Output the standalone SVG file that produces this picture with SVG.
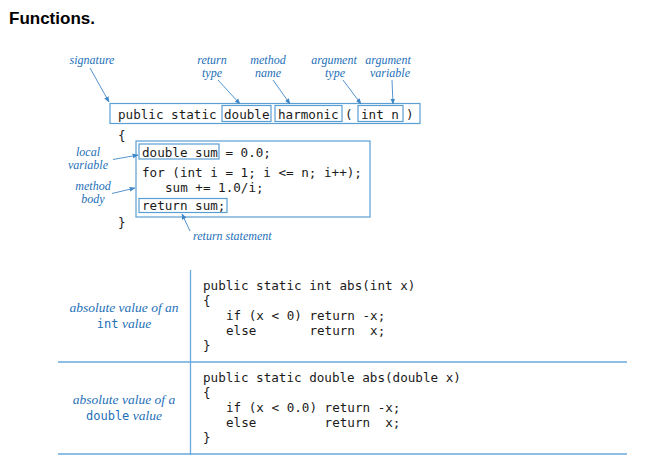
<svg xmlns="http://www.w3.org/2000/svg" width="650" height="456" viewBox="0 0 650 456">
  <style>
    .title { font-family: "Liberation Sans", Arial, sans-serif; font-weight: bold; font-size: 17px; fill: #000; }
    .code { font-family: "DejaVu Sans Mono", "Liberation Mono", monospace; font-size: 12.6px; fill: #1a1a1a; white-space: pre; }
    .lbl { font-family: "Liberation Serif", "Times New Roman", serif; font-style: italic; font-size: 12px; fill: #2470b8; }
    .lbl.big { font-size: 13.5px; }
    .lblmono { font-family: "DejaVu Sans Mono", "Liberation Mono", monospace; font-style: normal; font-size: 12px; fill: #2470b8; }
    .box { fill: none; stroke: #5a9fd4; stroke-width: 1.2; }
    .rule { fill: none; stroke: #6aa9dc; stroke-width: 1.3; }
    .arrow { fill: none; stroke: #3f88c8; stroke-width: 0.9; marker-end: url(#ah); }
  </style>
  <defs>
    <marker id="ah" viewBox="0 0 10 10" refX="9" refY="5" markerWidth="6" markerHeight="6" orient="auto" markerUnits="userSpaceOnUse">
      <path d="M0,1 L10,5 L0,9 Z" fill="#3f88c8"/>
    </marker>
  </defs>

  <rect width="650" height="456" fill="#fff"/>

  <text class="title" x="9" y="24">Functions.</text>

  <!-- signature line -->
  <g id="signature">
    <rect class="box" x="110" y="103.5" width="310" height="20"/>
    <rect class="box" x="222" y="105.5" width="49" height="16"/>
    <rect class="box" x="275" y="105.5" width="67" height="16"/>
    <rect class="box" x="358" y="105.5" width="45" height="16"/>
    <text class="code" x="118" y="118.5">public static</text>
    <text class="code" x="224" y="118.5">double</text>
    <text class="code" x="278" y="118.5">harmonic</text>
    <text class="code" x="345" y="118.5">(</text>
    <text class="code" x="361" y="118.5">int n</text>
    <text class="code" x="406" y="118.5">)</text>
  </g>

  <!-- method body -->
  <g id="body">
    <text class="code" x="118" y="140">{</text>
    <rect class="box" x="136" y="141" width="234" height="76"/>
    <rect class="box" x="139" y="144" width="80" height="15"/>
    <rect class="box" x="139" y="198.5" width="88" height="14"/>
    <text class="code" x="142" y="157">double sum = 0.0;</text>
    <text class="code" x="142" y="177">for (int i = 1; i &lt;= n; i++);</text>
    <text class="code" x="165" y="191.5">sum += 1.0/i;</text>
    <text class="code" x="142" y="210">return sum;</text>
    <text class="code" x="118" y="227">}</text>
  </g>

  <!-- annotation labels -->
  <g id="labels">
    <text class="lbl" x="92" y="64" text-anchor="middle">signature</text>
    <text class="lbl" x="212" y="64" text-anchor="middle">return</text>
    <text class="lbl" x="212" y="77" text-anchor="middle">type</text>
    <text class="lbl" x="268" y="64" text-anchor="middle">method</text>
    <text class="lbl" x="268" y="77" text-anchor="middle">name</text>
    <text class="lbl" x="334" y="64" text-anchor="middle">argument</text>
    <text class="lbl" x="335" y="77" text-anchor="middle">type</text>
    <text class="lbl" x="388" y="64" text-anchor="middle">argument</text>
    <text class="lbl" x="390" y="77" text-anchor="middle">variable</text>
    <text class="lbl" x="88" y="156" text-anchor="middle">local</text>
    <text class="lbl" x="88" y="169" text-anchor="middle">variable</text>
    <text class="lbl" x="93" y="190" text-anchor="middle">method</text>
    <text class="lbl" x="93" y="203" text-anchor="middle">body</text>
    <text class="lbl" x="193" y="240">return statement</text>
  </g>

  <!-- pointers from labels -->
  <g id="connectors">
    <path class="arrow" d="M90,68 L109,102"/>
    <path class="arrow" d="M218,80 L240,104"/>
    <path class="arrow" d="M273,80 L290,104"/>
    <path class="arrow" d="M343,80 L361,104"/>
    <path class="arrow" d="M392,80 L393,104"/>
    <path class="arrow" d="M113,159.5 L138,155"/>
    <path class="arrow" d="M112,193.5 L135,188"/>
    <path class="arrow" d="M190,231 L182,214"/>
  </g>

  <!-- table of abs() examples -->
  <g id="table">
    <line class="rule" x1="190.5" y1="270" x2="190.5" y2="455"/>
    <line class="rule" x1="58" y1="362" x2="627" y2="362"/>
    <line class="rule" x1="58" y1="454" x2="627" y2="454"/>
  </g>

  <g id="row-int">
    <text class="lbl big" x="124" y="312" text-anchor="middle">absolute value of an</text>
    <text class="lbl big" x="124" y="328" text-anchor="middle"><tspan class="lblmono">int</tspan> value</text>
    <text class="code" x="203" y="290">public static int abs(int x)</text>
    <text class="code" x="203" y="305">{</text>
    <text class="code" x="226" y="320">if (x &lt; 0) return -x;</text>
    <text class="code" x="226" y="335">else       return  x;</text>
    <text class="code" x="203" y="350">}</text>
  </g>

  <g id="row-double">
    <text class="lbl big" x="124" y="404" text-anchor="middle">absolute value of a</text>
    <text class="lbl big" x="124" y="420" text-anchor="middle"><tspan class="lblmono">double</tspan> value</text>
    <text class="code" x="203" y="382">public static double abs(double x)</text>
    <text class="code" x="203" y="397">{</text>
    <text class="code" x="226" y="412">if (x &lt; 0.0) return -x;</text>
    <text class="code" x="226" y="427">else         return  x;</text>
    <text class="code" x="203" y="442">}</text>
  </g>
</svg>
